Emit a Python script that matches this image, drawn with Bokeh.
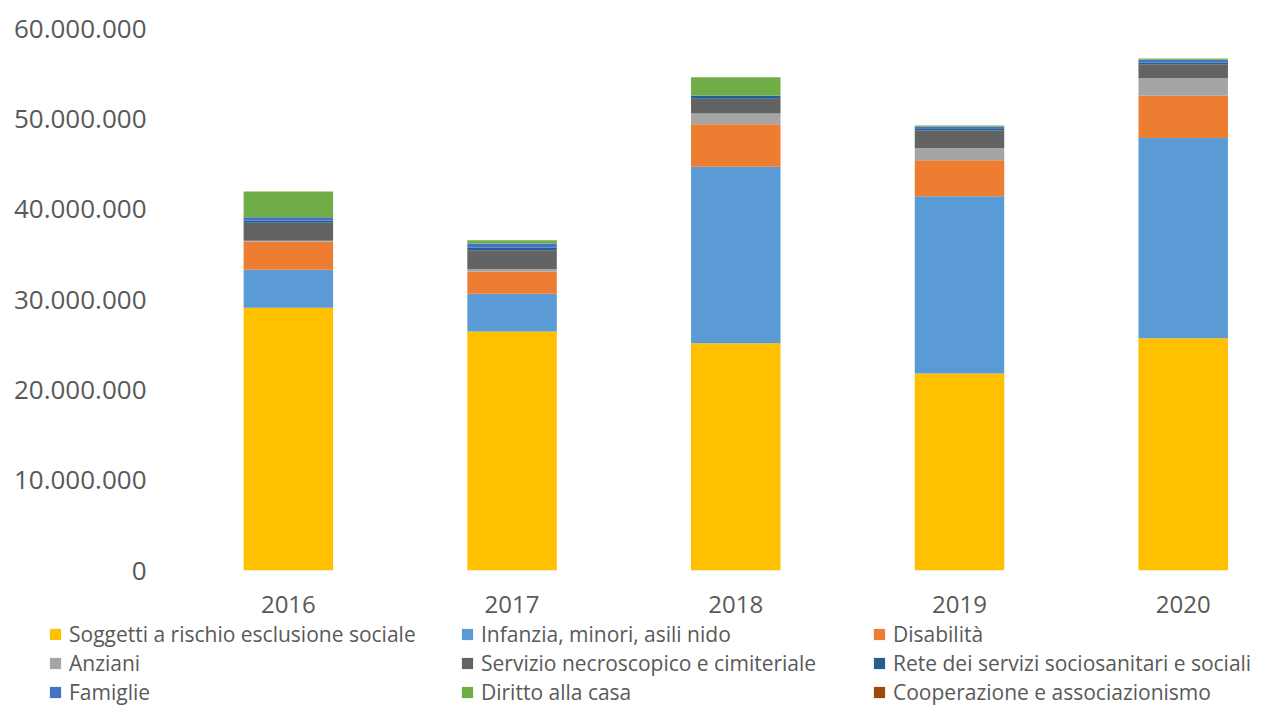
from bokeh.plotting import figure
from bokeh.layouts import column
from bokeh.models import ColumnDataSource, FixedTicker, Range1d, Legend, LegendItem
from bokeh.embed import file_html
from bokeh.resources import INLINE

years = ["2016", "2017", "2018", "2019", "2020"]
series = [
    "Soggetti a rischio esclusione sociale",
    "Infanzia, minori, asili nido",
    "Disabilità",
    "Anziani",
    "Servizio necroscopico e cimiteriale",
    "Rete dei servizi sociosanitari e sociali",
    "Famiglie",
    "Diritto alla casa",
    "Cooperazione e associazionismo",
]
soggetti = [29100000, 26450000, 25160000, 21800000, 25700000]
infanzia = [4200000, 4200000, 19530000, 19630000, 22170000]
disabilita = [3100000, 2440000, 4720000, 3990000, 4690000]
anziani = [100000, 300000, 1180000, 1330000, 1950000]
necroscopico = [2000000, 2070000, 1620000, 1960000, 1520000]
rete = [250000, 300000, 330000, 260000, 220000]
famiglie = [350000, 440000, 50000, 190000, 300000]
casa = [2850000, 370000, 2000000, 100000, 130000]
cooperazione = [0, 0, 0, 0, 0]
colors = ["#FFC000", "#5B9BD5", "#ED7D31", "#A5A5A5", "#636363",
          "#255E91", "#4472C4", "#70AD47", "#9E480E"]
y_ticks = [0, 10000000, 20000000, 30000000, 40000000, 50000000, 60000000]
y_tick_labels = ["0", "10.000.000", "20.000.000", "30.000.000",
                 "40.000.000", "50.000.000", "60.000.000"]

values = [soggetti, infanzia, disabilita, anziani, necroscopico,
          rete, famiglie, casa, cooperazione]
keys = ["s%d" % i for i in range(len(series))]
data = {"x": list(range(len(years)))}
for k, v in zip(keys, values):
    data[k] = v
source = ColumnDataSource(data)

p = figure(width=1261, height=630, output_backend="svg", toolbar_location=None,
           x_range=Range1d(-0.5, 4.35), y_range=Range1d(0, 60000000),
           min_border_left=176, min_border_right=0, min_border_top=28,
           min_border_bottom=60)
p.frame_align = False
p.outline_line_color = None
p.grid.visible = False
p.background_fill_color = "white"
p.border_fill_color = "white"

p.vbar_stack(keys, x="x", width=0.4, color=colors, line_color=None, source=source)

text_color = "#595959"
p.yaxis.ticker = FixedTicker(ticks=y_ticks)
p.yaxis.major_label_overrides = {t: l for t, l in zip(y_ticks, y_tick_labels)}
p.yaxis.axis_line_color = None
p.yaxis.major_tick_line_color = None
p.yaxis.minor_tick_line_color = None
p.yaxis.major_tick_out = 0
p.yaxis.major_label_standoff = 30
p.yaxis.major_label_text_font = "Open Sans"
p.yaxis.major_label_text_font_size = "26px"
p.yaxis.major_label_text_color = text_color

p.xaxis.ticker = FixedTicker(ticks=list(range(len(years))))
p.xaxis.major_label_overrides = {i: y for i, y in enumerate(years)}
p.xaxis.axis_line_color = None
p.xaxis.major_tick_line_color = None
p.xaxis.minor_tick_line_color = None
p.xaxis.major_tick_out = 0
p.xaxis.major_label_standoff = 25
p.xaxis.major_label_text_font = "Open Sans"
p.xaxis.major_label_text_font_size = "24px"
p.xaxis.major_label_text_color = text_color

# legend strip below the chart (pulled up slightly so all fits the window)
lg = figure(width=1261, height=89, output_backend="svg", toolbar_location=None,
            x_range=Range1d(0, 1), y_range=Range1d(0, 1),
            x_axis_location=None, y_axis_location=None,
            min_border_left=0, min_border_right=0, min_border_top=0,
            min_border_bottom=0, margin=(-13, 0, 0, 0))
lg.frame_align = False
lg.outline_line_color = None
lg.grid.visible = False
lg.background_fill_alpha = 0
lg.border_fill_alpha = 0
items = []
for s, c in zip(series, colors):
    r = lg.rect(x=[-5], y=[-5], width=0.1, height=0.1, color=c, line_color=None)
    items.append(LegendItem(label=s, renderers=[r]))
legend = Legend(items=items, orientation="horizontal", ncols=3,
                location=(48, 0),
                glyph_width=14, glyph_height=14, label_height=20,
                label_width=390, label_standoff=7, spacing=1,
                padding=0, margin=0, border_line_color=None,
                background_fill_alpha=0,
                label_text_font="Open Sans", label_text_font_size="21px",
                label_text_color=text_color)
lg.add_layout(legend, "center")

layout = column(p, lg, spacing=0)
open("out.html", "w").write(file_html(layout, INLINE))
